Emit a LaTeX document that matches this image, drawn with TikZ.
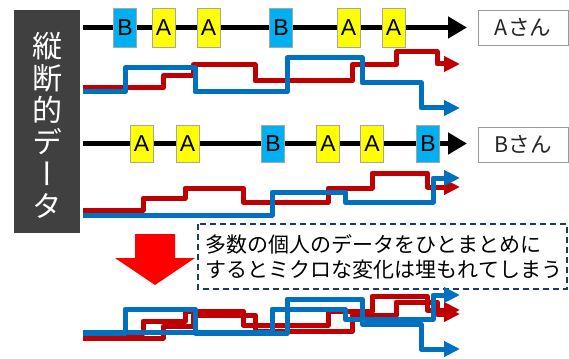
\documentclass[tikz,border=0pt]{standalone}
\usepackage{fontspec}
\setmainfont{Noto Sans CJK JP}
\newfontfamily\latinfont{Liberation Sans}
\newfontfamily\vertfont[RawFeature=+vert]{Noto Sans CJK JP}
\usetikzlibrary{arrows.meta}
\definecolor{lnblue}{HTML}{0070C0}
\definecolor{lnred}{HTML}{C00000}
\definecolor{boxA}{HTML}{FFFF00}
\definecolor{boxB}{HTML}{00B0F0}
\definecolor{darkbox}{HTML}{404040}
\definecolor{navy}{HTML}{1F3864}
\tikzset{
  timeline/.style={line width=5.5pt, -{Triangle[length=19pt,width=21pt]}},
  redline/.style={draw=lnred, line width=5pt, line join=round, -{Triangle[length=16pt,width=15pt]}},
  blueline/.style={draw=lnblue, line width=5pt, line join=round, -{Triangle[length=16pt,width=15pt]}},
  evbox/.style={draw=gray!70, line width=0.8pt, minimum width=23pt, inner sep=0pt, font=\latinfont\fontsize{23}{23}\selectfont},
  evA/.style={evbox, fill=boxA},
  evB/.style={evbox, fill=boxB},
  namebox/.style={draw=gray!80, line width=0.9pt, minimum width=90pt, minimum height=35pt, inner sep=0pt, font=\fontsize{21.5}{21.5}\selectfont, text=black!85},
}
\newcommand\pathRA{(83,88) -- (163,88) -- (163,76) -- (193,76) -- (193,65) -- (255,65) -- (255,81) -- (352,81) -- (352,65) -- (396,65) -- (396,52) -- (437,52) -- (437,64) -- (460,64)}
\newcommand\pathBA{(83,92) -- (125,92) -- (125,68) -- (195,68) -- (195,92) -- (287,92) -- (287,58) -- (362,58) -- (362,83) -- (421,83) -- (421,108) -- (460,108)}
\newcommand\pathRB{(83,210) -- (143,210) -- (143,198) -- (185,198) -- (185,188) -- (243,188) -- (243,202) -- (328,202) -- (328,188) -- (372,188) -- (372,173) -- (427,173) -- (427,187) -- (460,187)}
\newcommand\pathBB{(83,215) -- (272,215) -- (272,192) -- (345,192) -- (345,202) -- (433,202) -- (433,178) -- (460,178)}
\begin{document}
\begin{tikzpicture}[x=1pt,y=-1pt]
\useasboundingbox (0,0) rectangle (569,358);
\fill[white] (0,0) rectangle (569,358);

% left label
\fill[darkbox] (14,10) rectangle (80,233);
\node[text=white, align=center, inner sep=0pt, font=\vertfont\fontsize{30}{32}\selectfont] (vlabel) at (47,125) {縦\\断\\的\\デ\\ー\\タ};

% timeline A
\coordinate (ta0) at (83,27.5);
\coordinate (ta1) at (467,27.5);
\draw[timeline] (ta0) -- (ta1);
\node[evB, minimum height=39pt] (a1) at (125,27.5) {B};
\node[evA, minimum height=39pt] (a2) at (163.5,27.5) {A};
\node[evA, minimum height=39pt] (a3) at (208.5,27.5) {A};
\node[evB, minimum height=39pt] (a4) at (281,27.5) {B};
\node[evA, minimum height=39pt] (a5) at (348.5,27.5) {A};
\node[evA, minimum height=39pt] (a6) at (393.5,27.5) {A};
\node[namebox] (nameA) at (523,27.5) {Aさん};

% lines A
\draw[redline] \pathRA;
\draw[blueline] \pathBA;

% timeline B
\coordinate (tb0) at (83,143.5);
\coordinate (tb1) at (467,143.5);
\draw[timeline] (tb0) -- (tb1);
\node[evA, minimum height=37pt] (b1) at (141.5,143.5) {A};
\node[evA, minimum height=37pt] (b2) at (187.5,143.5) {A};
\node[evB, minimum height=37pt] (b3) at (273,143.5) {B};
\node[evA, minimum height=37pt] (b4) at (328,143.5) {A};
\node[evA, minimum height=37pt] (b5) at (372,143.5) {A};
\node[evB, minimum height=37pt] (b6) at (428,143.5) {B};
\node[namebox] (nameB) at (523,144.5) {Bさん};

% lines B
\draw[redline] \pathRB;
\draw[blueline] \pathBB;

% big red arrow
\fill[red] (135,234) -- (175,234) -- (175,258) -- (195,258) -- (155,285) -- (115,258) -- (135,258) -- cycle;

% dashed note
\draw[navy, line width=1.6pt, dash pattern=on 6pt off 4pt] (198,224) rectangle (567,289);
\node[align=left, inner sep=0pt, font=\fontsize{21}{25}\selectfont, text=black] (note) at (384,256.5) {多数の個人のデータをひとまとめに\\するとミクロな変化は埋もれてしまう};

% combined lines
\begin{scope}[shift={(0,123)}]
\draw[redline] \pathRB;
\end{scope}
\begin{scope}[shift={(0,250)}]
\draw[redline] \pathRA;
\end{scope}
\begin{scope}[shift={(0,117)}]
\draw[blueline] \pathBB;
\end{scope}
\begin{scope}[shift={(0,241)}]
\draw[blueline] \pathBA;
\end{scope}
\end{tikzpicture}
\end{document}
